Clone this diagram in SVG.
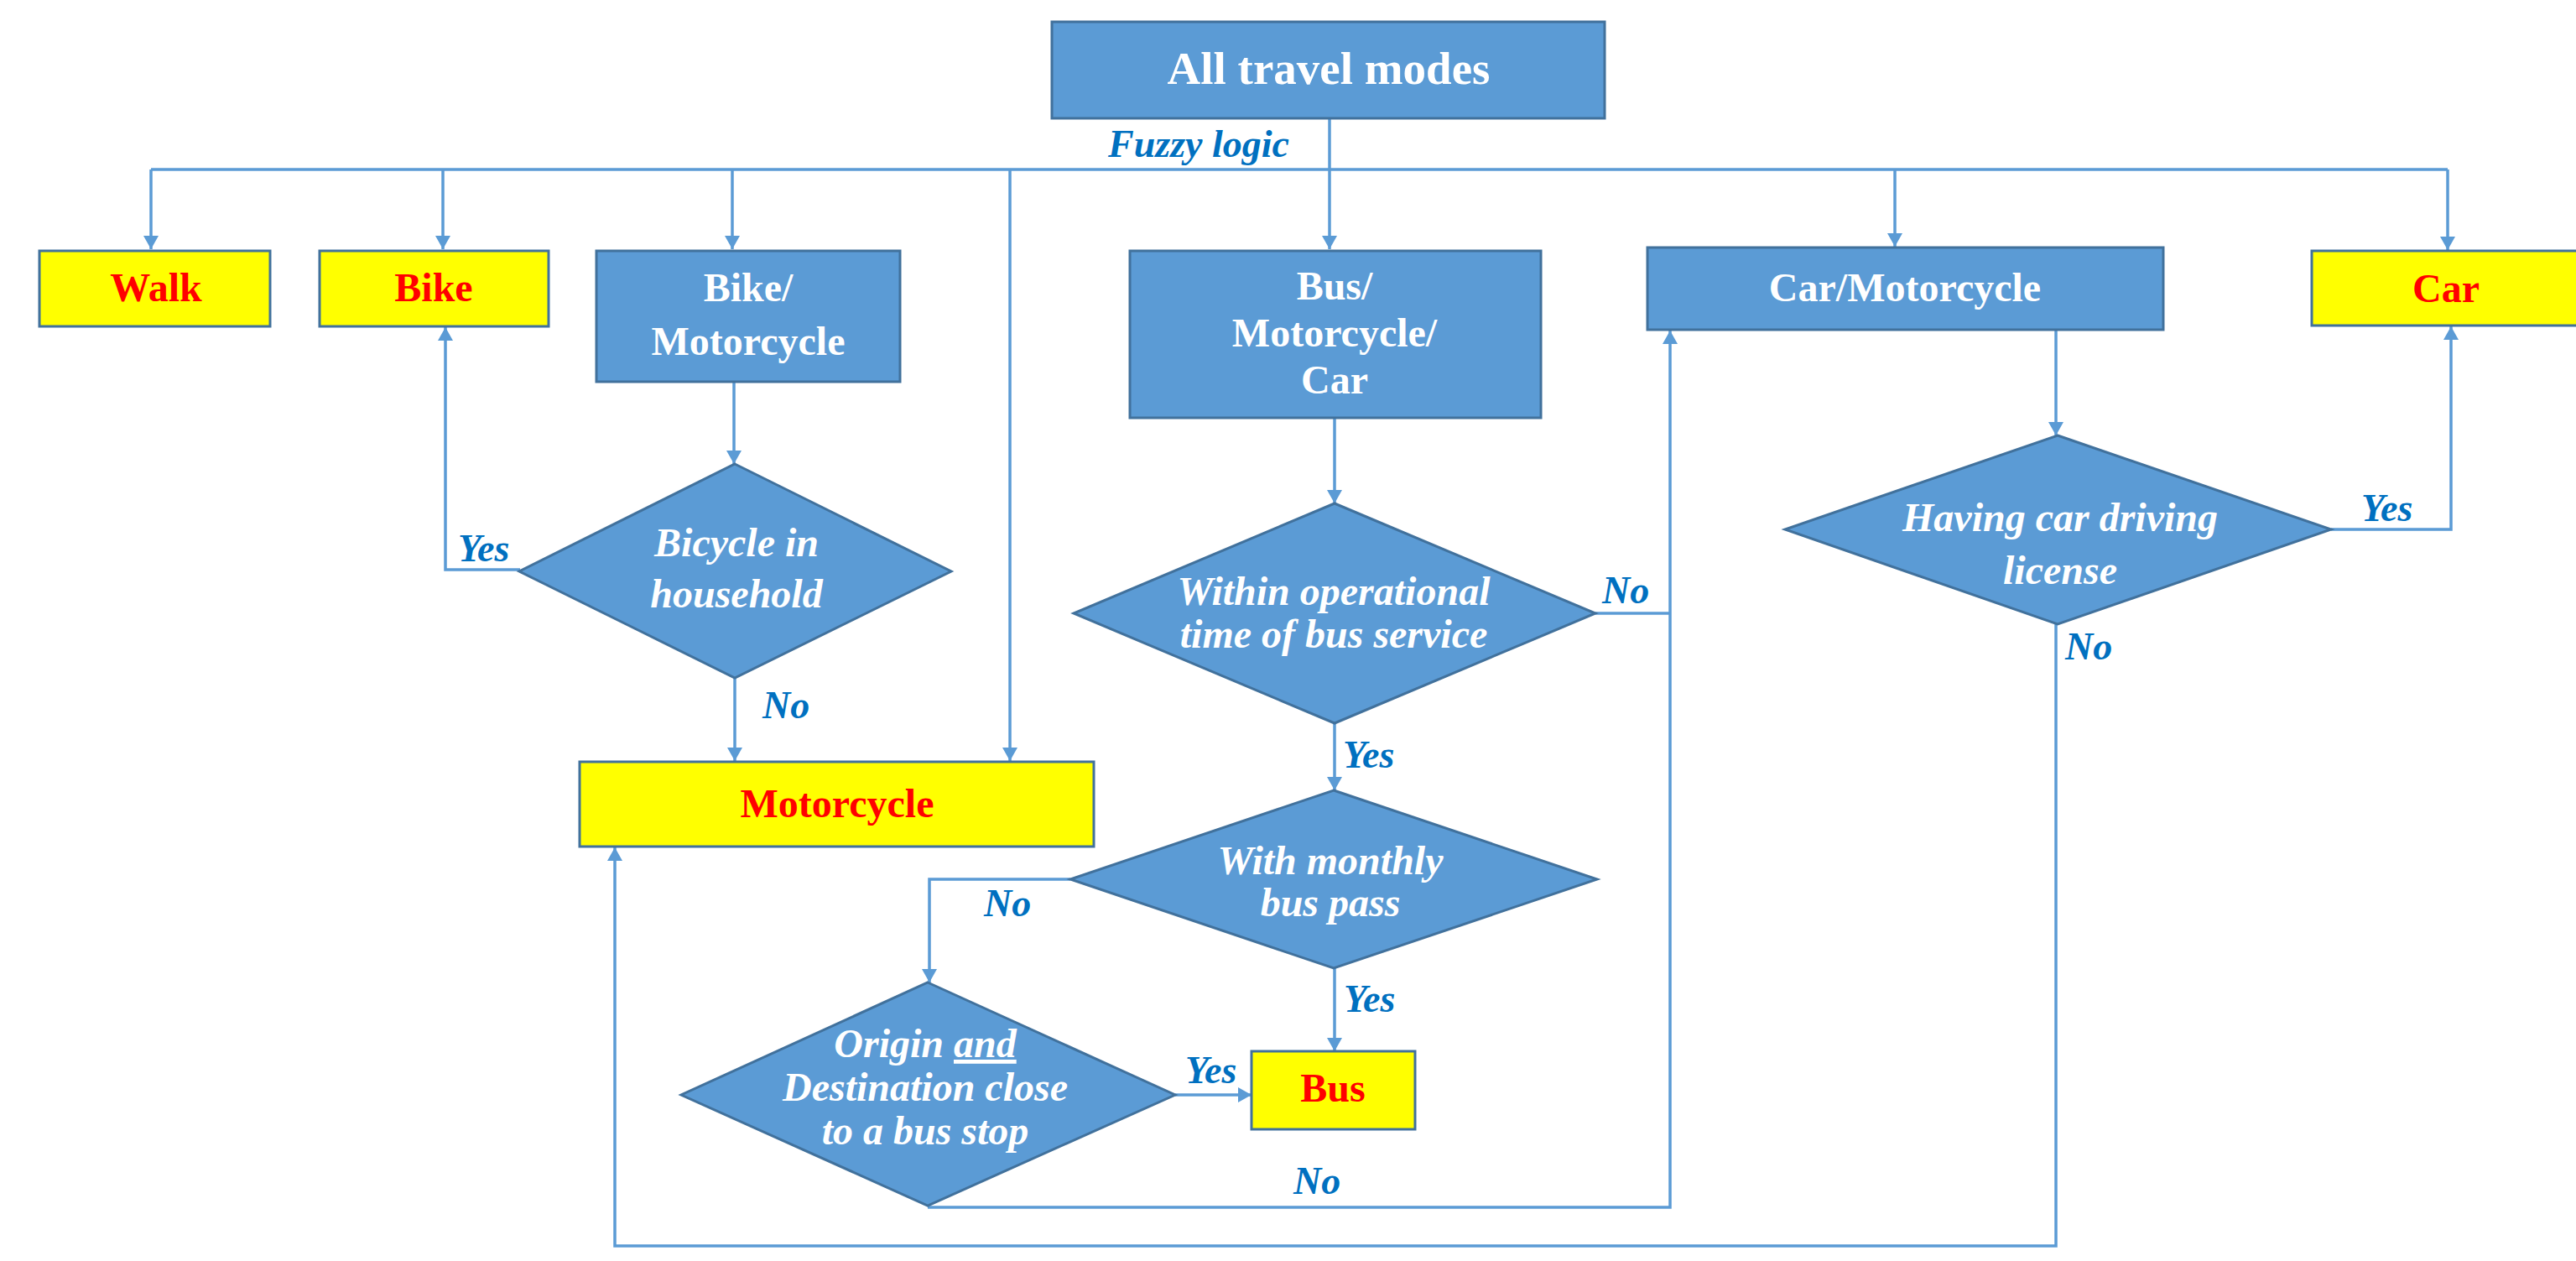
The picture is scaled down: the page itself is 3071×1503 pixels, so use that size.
<svg xmlns="http://www.w3.org/2000/svg" width="3071" height="1503" viewBox="0 0 3071 1503">
<defs>
<marker id="arr" viewBox="0 0 16 18" refX="16" refY="9" markerWidth="16" markerHeight="18" orient="auto" markerUnits="userSpaceOnUse">
<path d="M0,0 L16,9 L0,18 z" fill="#5B9BD5"/>
</marker>
<style>
.box{fill:#5B9BD5;stroke:#41719C;stroke-width:3}
.ybox{fill:#FFFF00;stroke:#41719C;stroke-width:3}
.dia{fill:#5B9BD5;stroke:#41719C;stroke-width:3}
.c{fill:none;stroke:#5B9BD5;stroke-width:3.5}
.ca{fill:none;stroke:#5B9BD5;stroke-width:3.5;marker-end:url(#arr)}
.wt{font-family:"Liberation Serif","Times New Roman",serif;font-weight:bold;font-size:48px;fill:#FFFFFF;text-anchor:middle}
.wi{font-family:"Liberation Serif","Times New Roman",serif;font-weight:bold;font-style:italic;font-size:48px;fill:#FFFFFF;text-anchor:middle}
.rt{font-family:"Liberation Serif","Times New Roman",serif;font-weight:bold;font-size:48px;fill:#FF0000;text-anchor:middle}
.lb{font-family:"Liberation Serif","Times New Roman",serif;font-weight:bold;font-style:italic;font-size:46px;fill:#0070C0}
</style>
</defs>
<rect width="3071" height="1503" fill="#FFFFFF"/>

<g id="connectors">
<path class="ca" d="M1585,141 V297"/>
<path class="c" d="M180,202 H2918"/>
<path class="ca" d="M180,202 V297"/>
<path class="ca" d="M528,202 V297"/>
<path class="ca" d="M873,202 V297"/>
<path class="ca" d="M1204,202 V907"/>
<path class="ca" d="M2259,202 V294"/>
<path class="ca" d="M2918,202 V298"/>
<path class="ca" d="M875,455 V553"/>
<path class="ca" d="M620,679 H531 V390"/>
<path class="ca" d="M876,808 V907"/>
<path class="ca" d="M1591,498 V600"/>
<path class="c" d="M1902,731 H1991"/>
<path class="ca" d="M1106,1439 H1991 V394"/>
<path class="ca" d="M1591,862 V942"/>
<path class="ca" d="M1276,1048 H1108 V1171"/>
<path class="ca" d="M1591,1154 V1253"/>
<path class="ca" d="M1401,1305 H1492"/>
<path class="ca" d="M2451,393 V519"/>
<path class="ca" d="M2779,631 H2922 V389"/>
<path class="ca" d="M2451,744 V1485 H733 V1010"/>
<text class="lb" x="1321" y="187">Fuzzy logic</text>
<text class="lb" x="546" y="669">Yes</text>
<text class="lb" x="909" y="856">No</text>
<text class="lb" x="1910" y="719">No</text>
<text class="lb" x="1601" y="915">Yes</text>
<text class="lb" x="1173" y="1092">No</text>
<text class="lb" x="1602" y="1206">Yes</text>
<text class="lb" x="1413" y="1291">Yes</text>
<text class="lb" x="1542" y="1423">No</text>
<text class="lb" x="2815" y="621">Yes</text>
<text class="lb" x="2462" y="786">No</text>
</g>

<g id="all-travel-modes">
<rect class="box" x="1254" y="26" width="659" height="115"/>
<text class="wt" x="1584" y="100" style="font-size:55px">All travel modes</text>
</g>

<g id="walk">
<rect class="ybox" x="47" y="299" width="275" height="90"/>
<text class="rt" x="186" y="359">Walk</text>
</g>

<g id="bike">
<rect class="ybox" x="381" y="299" width="273" height="90"/>
<text class="rt" x="517" y="359">Bike</text>
</g>

<g id="bike-motorcycle">
<rect class="box" x="711" y="299" width="362" height="156"/>
<text class="wt" x="892" y="359">Bike/</text>
<text class="wt" x="892" y="423">Motorcycle</text>
</g>

<g id="bus-motorcycle-car">
<rect class="box" x="1347" y="299" width="490" height="199"/>
<text class="wt" x="1591" y="357">Bus/</text>
<text class="wt" x="1591" y="413">Motorcycle/</text>
<text class="wt" x="1591" y="469">Car</text>
</g>

<g id="car-motorcycle">
<rect class="box" x="1964" y="295" width="615" height="98"/>
<text class="wt" x="2271" y="359">Car/Motorcycle</text>
</g>

<g id="car">
<rect class="ybox" x="2756" y="299" width="322" height="89"/>
<text class="rt" x="2916" y="360">Car</text>
</g>

<g id="bicycle-in-household">
<polygon class="dia" points="876,553 1134,681 876,808 619,681"/>
<text class="wi" x="878" y="663">Bicycle in</text>
<text class="wi" x="878" y="724">household</text>
</g>

<g id="motorcycle">
<rect class="ybox" x="691" y="908" width="613" height="101"/>
<text class="rt" x="998" y="974">Motorcycle</text>
</g>

<g id="within-operational-time">
<polygon class="dia" points="1591,600 1902,731 1591,862 1280,731"/>
<text class="wi" x="1590" y="721">Within operational</text>
<text class="wi" x="1590" y="772">time of bus service</text>
</g>

<g id="with-monthly-bus-pass">
<polygon class="dia" points="1590,942 1904,1048 1590,1154 1276,1048"/>
<text class="wi" x="1586" y="1042">With monthly</text>
<text class="wi" x="1586" y="1092">bus pass</text>
</g>

<g id="origin-destination">
<polygon class="dia" points="1106,1171 1401,1305 1106,1437 812,1305"/>
<text class="wi" x="1103" y="1260">Origin <tspan text-decoration="underline">and</tspan></text>
<text class="wi" x="1103" y="1312">Destination close</text>
<text class="wi" x="1103" y="1364">to a bus stop</text>
</g>

<g id="bus">
<rect class="ybox" x="1492" y="1253" width="195" height="93"/>
<text class="rt" x="1589" y="1313">Bus</text>
</g>

<g id="having-car-driving-license">
<polygon class="dia" points="2453,519 2779,631 2453,744 2128,631"/>
<text class="wi" x="2456" y="633">Having car driving</text>
<text class="wi" x="2456" y="696">license</text>
</g>
</svg>
